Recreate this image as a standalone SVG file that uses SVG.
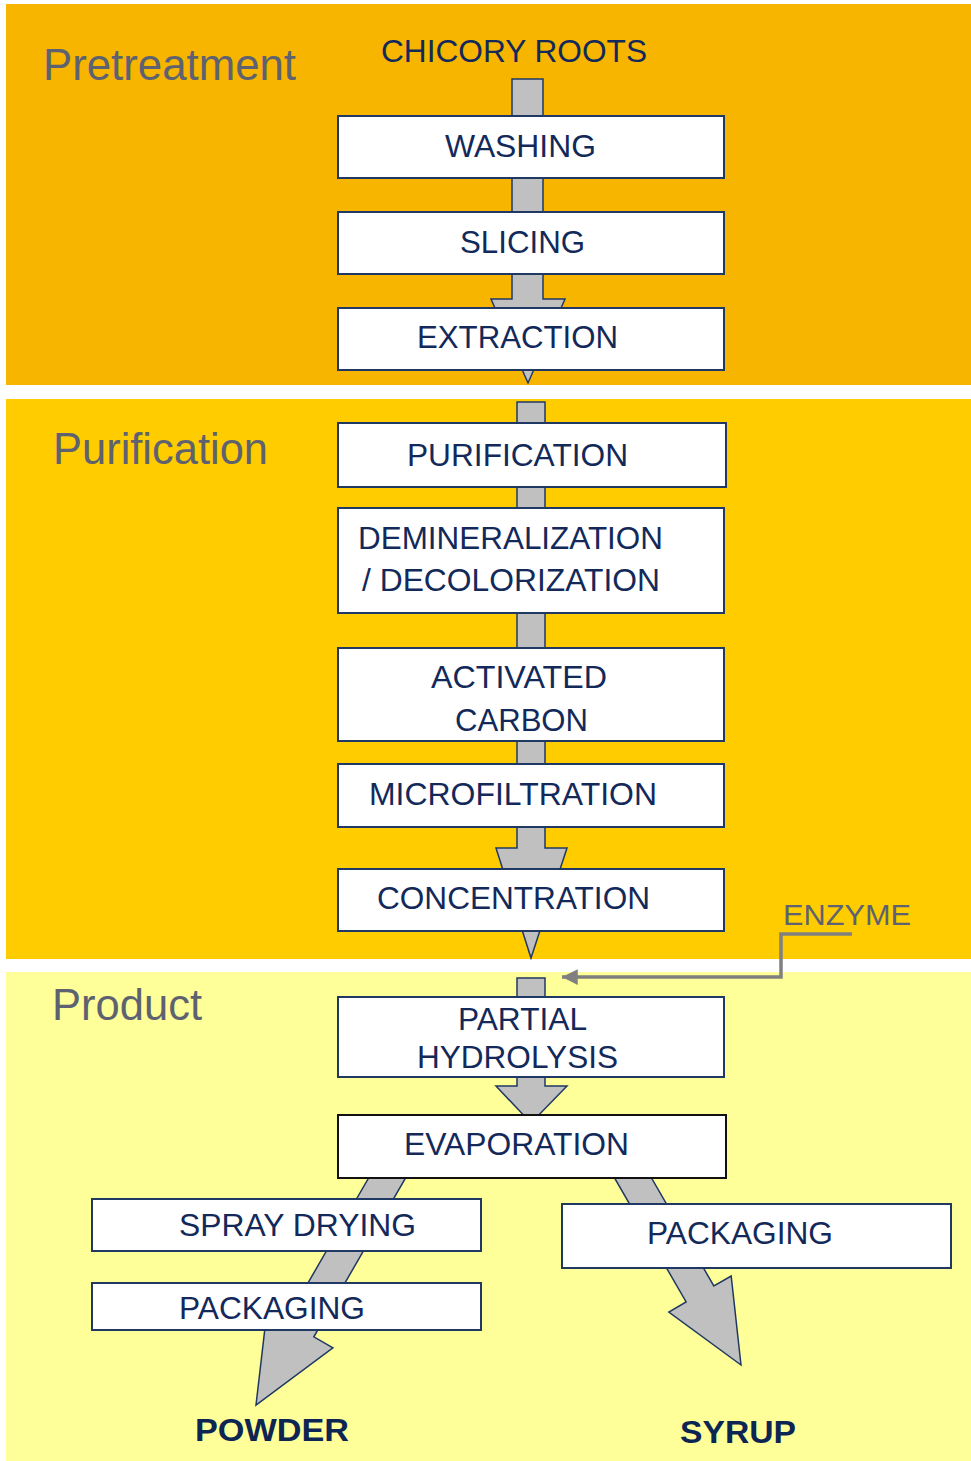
<svg xmlns="http://www.w3.org/2000/svg" width="971" height="1461" viewBox="0 0 971 1461">
  <defs>
    <style>
      .band-label { font-family: "Liberation Sans", Arial, sans-serif; font-size: 44px; fill: #5e6270; }
      .box { fill: #ffffff; stroke: #1f3864; stroke-width: 2; }
      .box-black { fill: #ffffff; stroke: #111111; stroke-width: 2; }
      .lbl { font-family: "Liberation Sans", Arial, sans-serif; font-size: 31px; fill: #13295a; }
      .out { font-family: "Liberation Sans", Arial, sans-serif; font-size: 32px; font-weight: bold; fill: #0d2552; }
      .flow { fill: #c0c0c0; stroke: #1f3864; stroke-width: 1.5; stroke-linejoin: miter; }
      .enz { fill: none; stroke: #808080; stroke-width: 3.5; }
    </style>
    <marker id="enzHead" viewBox="0 0 10 10" refX="10" refY="5" markerWidth="5.5" markerHeight="4.5" orient="auto" markerUnits="strokeWidth">
      <path d="M0,0 L10,5 L0,10 z" fill="#808080"/>
    </marker>
  </defs>

  <rect width="971" height="1461" fill="#ffffff"/>

  <!-- Bands -->
  <g id="band-pretreatment">
    <rect x="6" y="4" width="965" height="381" fill="#f7b500"/>
    <text class="band-label" x="43" y="80" textLength="253" lengthAdjust="spacingAndGlyphs">Pretreatment</text>
  </g>
  <g id="band-purification">
    <rect x="6" y="399" width="965" height="560" fill="#ffcc00"/>
    <text class="band-label" x="53" y="464" textLength="215" lengthAdjust="spacingAndGlyphs">Purification</text>
  </g>
  <g id="band-product">
    <rect x="6" y="972" width="965" height="489" fill="#ffff99"/>
    <text class="band-label" x="52" y="1020" textLength="150" lengthAdjust="spacingAndGlyphs">Product</text>
  </g>

  <!-- Connectors -->
  <g id="connectors">
    <polygon class="flow" points="512,79 543,79 543,299 565,299 528,383 491,299 512,299"/>
    <polygon class="flow" points="517,402 545,402 545,848 567,848 531,958 496,848 517,848"/>
    <polygon class="flow" points="517,978 545,978 545,1086 567,1086 531,1123 496,1086 517,1086"/>
    <polygon class="flow" transform="translate(256,1405) rotate(30)" points="-16,-300 16,-300 16,-88 38,-88 0,0 -38,-88 -16,-88"/>
    <polygon class="flow" transform="translate(741,1365) rotate(-30)" points="-16,-250 16,-250 16,-82 36,-82 0,0 -36,-82 -16,-82"/>
    <polyline class="enz" points="852,934 781,934 781,977 562,977" marker-end="url(#enzHead)"/>
    <text x="783" y="925" font-family="Liberation Sans, Arial, sans-serif" font-size="30" fill="#5e6270" textLength="128" lengthAdjust="spacingAndGlyphs">ENZYME</text>
  </g>

  <!-- Nodes -->
  <g id="node-chicory-roots">
    <text class="lbl" x="381" y="62" textLength="266" lengthAdjust="spacingAndGlyphs">CHICORY ROOTS</text>
  </g>
  <g id="node-washing">
    <rect class="box" x="338" y="116" width="386" height="62"/>
    <text class="lbl" x="445" y="157" textLength="151" lengthAdjust="spacingAndGlyphs">WASHING</text>
  </g>
  <g id="node-slicing">
    <rect class="box" x="338" y="212" width="386" height="62"/>
    <text class="lbl" x="460" y="253" textLength="125" lengthAdjust="spacingAndGlyphs">SLICING</text>
  </g>
  <g id="node-extraction">
    <rect class="box" x="338" y="308" width="386" height="62"/>
    <text class="lbl" x="417" y="348" textLength="201" lengthAdjust="spacingAndGlyphs">EXTRACTION</text>
  </g>
  <g id="node-purification">
    <rect class="box" x="338" y="423" width="388" height="64"/>
    <text class="lbl" x="407" y="466" textLength="221" lengthAdjust="spacingAndGlyphs">PURIFICATION</text>
  </g>
  <g id="node-demineralization">
    <rect class="box" x="338" y="508" width="386" height="105"/>
    <text class="lbl" x="358" y="549" textLength="305" lengthAdjust="spacingAndGlyphs">DEMINERALIZATION</text>
    <text class="lbl" x="362" y="591" textLength="298" lengthAdjust="spacingAndGlyphs">/ DECOLORIZATION</text>
  </g>
  <g id="node-activated-carbon">
    <rect class="box" x="338" y="648" width="386" height="93"/>
    <text class="lbl" x="431" y="688" textLength="176" lengthAdjust="spacingAndGlyphs">ACTIVATED</text>
    <text class="lbl" x="455" y="731" textLength="133" lengthAdjust="spacingAndGlyphs">CARBON</text>
  </g>
  <g id="node-microfiltration">
    <rect class="box" x="338" y="764" width="386" height="63"/>
    <text class="lbl" x="369" y="805" textLength="288" lengthAdjust="spacingAndGlyphs">MICROFILTRATION</text>
  </g>
  <g id="node-concentration">
    <rect class="box" x="338" y="869" width="386" height="62"/>
    <text class="lbl" x="377" y="909" textLength="273" lengthAdjust="spacingAndGlyphs">CONCENTRATION</text>
  </g>
  <g id="node-partial-hydrolysis">
    <rect class="box" x="338" y="997" width="386" height="80"/>
    <text class="lbl" x="458" y="1030" textLength="129" lengthAdjust="spacingAndGlyphs">PARTIAL</text>
    <text class="lbl" x="417" y="1068" textLength="201" lengthAdjust="spacingAndGlyphs">HYDROLYSIS</text>
  </g>
  <g id="node-evaporation">
    <rect class="box-black" x="338" y="1115" width="388" height="63"/>
    <text class="lbl" x="404" y="1155" textLength="225" lengthAdjust="spacingAndGlyphs">EVAPORATION</text>
  </g>
  <g id="node-spray-drying">
    <rect class="box" x="92" y="1199" width="389" height="52"/>
    <text class="lbl" x="179" y="1236" textLength="237" lengthAdjust="spacingAndGlyphs">SPRAY DRYING</text>
  </g>
  <g id="node-packaging-powder">
    <rect class="box" x="92" y="1283" width="389" height="47"/>
    <text class="lbl" x="179" y="1319" textLength="186" lengthAdjust="spacingAndGlyphs">PACKAGING</text>
  </g>
  <g id="node-packaging-syrup">
    <rect class="box" x="562" y="1204" width="389" height="64"/>
    <text class="lbl" x="647" y="1244" textLength="186" lengthAdjust="spacingAndGlyphs">PACKAGING</text>
  </g>
  <g id="node-powder">
    <text class="out" x="195" y="1441" textLength="154" lengthAdjust="spacingAndGlyphs">POWDER</text>
  </g>
  <g id="node-syrup">
    <text class="out" x="680" y="1443" textLength="116" lengthAdjust="spacingAndGlyphs">SYRUP</text>
  </g>
</svg>
